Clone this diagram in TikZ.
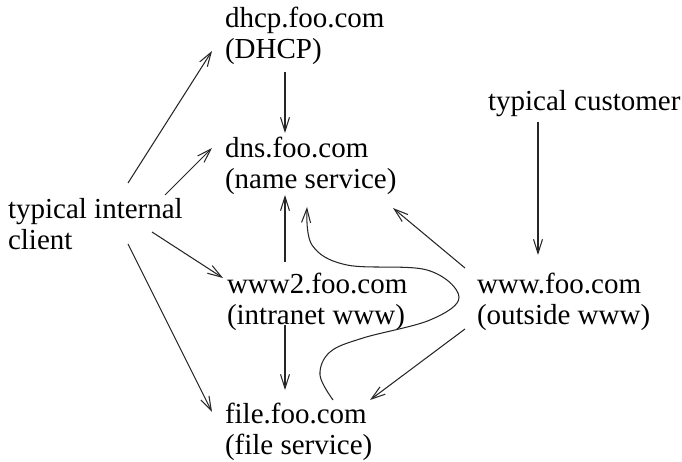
\documentclass[tikz,border=0pt]{standalone}
\usepackage{fontspec}
\setmainfont{Liberation Serif}
\usetikzlibrary{arrows.meta}
\begin{document}
\begin{tikzpicture}[x=1bp,y=-1bp,
  lab/.style={inner sep=0pt, outer sep=0pt, align=left, anchor=north west,
    font=\fontsize{29bp}{31bp}\selectfont},
  edge/.style={draw=black!85, line width=1.05bp,
    -{Straight Barb[length=14bp,width=9bp]}}]
\useasboundingbox (0,0) rectangle (682,462);
\node[lab] (dhcp) at (225,7) {dhcp.foo.com\\(DHCP)};
\node[lab] (dns) at (225,137) {dns.foo.com\\(name service)};
\node[lab] (client) at (8,198) {typical internal\\client};
\node[lab] (www2) at (227,273) {www2.foo.com\\(intranet www)};
\node[lab] (file) at (225,403) {file.foo.com\\(file service)};
\node[lab] (www) at (477,273) {www.foo.com\\(outside www)};
\node[lab] (cust) at (488,90) {typical customer};

\draw[edge] ([shift={(120,-15)}]client.north west) -- ([shift={(-13,44)}]dhcp.north west);
\draw[edge] ([shift={(157,-3)}]client.north west) -- ([shift={(-13,11)}]dns.north west);
\draw[edge] ([shift={(144,34)}]client.north west) -- ([shift={(-4,5)}]www2.north west);
\draw[edge] ([shift={(120,46)}]client.north west) -- ([shift={(-13,9)}]file.north west);
\draw[edge] ([shift={(60,65)}]dhcp.north west) -- ([shift={(60,-4)}]dns.north west);
\draw[edge] ([shift={(58,-11)}]www2.north west) -- ([shift={(60,58)}]dns.north west);
\draw[edge] ([shift={(58,52)}]www2.north west) -- ([shift={(60,-13)}]file.north west);
\draw[edge] ([shift={(50,32)}]cust.north west) -- ([shift={(61,-18)}]www.north west);
\draw[edge] ([shift={(-12,-5)}]www.north west) -- ([shift={(168,71)}]dns.north west);
\draw[edge] ([shift={(-12,56)}]www.north west) -- ([shift={(145,-3)}]file.north west);
\draw[edge] plot[smooth, tension=0.6] coordinates {([shift={(108,-3)}]file.north west)
  (320,375) (330,352) (363,338) (430,320) (459,297) (427,270) (347,265) (312,245)
  ([shift={(82,70)}]dns.north west)};
\end{tikzpicture}
\end{document}
